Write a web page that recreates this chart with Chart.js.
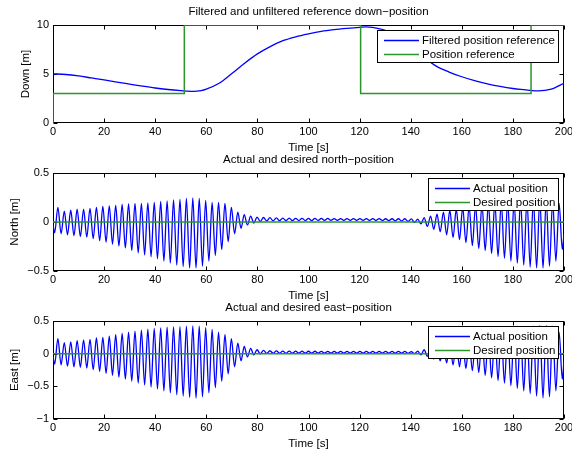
<!DOCTYPE html>
<html><head><meta charset="utf-8">
<script src="https://cdn.jsdelivr.net/npm/chart.js@4"></script>
<style>
html,body{margin:0;padding:0;background:#fff;width:572px;height:453px;overflow:hidden;position:relative;}
canvas{position:absolute;left:0;}
</style></head><body>
<canvas id="c1" width="572" height="157" style="top:0px"></canvas>
<canvas id="c2" width="572" height="157" style="top:148px"></canvas>
<canvas id="c3" width="572" height="157" style="top:296px"></canvas>
<script>
// ---- Data ----
const xTicksStep = 20;

// Top plot: filtered reference (blue) and step reference (green)
const filtT = [0,5,10,15,20,25,30,35,40,45,50,52,55,58,60,65,70,75,80,85,90,95,100,105,110,115,120,122.5,125,130,135,140,145,150,155,160,165,170,175,180,185,187,190,195,200];
const filtV = [5.02,4.95,4.8,4.6,4.4,4.18,3.97,3.76,3.57,3.42,3.3,3.26,3.22,3.3,3.45,4.05,5.05,6.1,7.05,7.8,8.4,8.8,9.1,9.35,9.52,9.65,9.76,9.8,9.75,9.45,8.75,7.75,6.7,5.8,5.2,4.72,4.32,4.0,3.73,3.52,3.38,3.32,3.27,3.45,4.05];
const refT = [0,0,51.4,51.4,120.4,120.4,187.1,187.1,200];
const refV = [0,3,3,10,10,3,3,10,10];

// Oscillation extrema times (troughs / peaks)
const troughTimes = [0.65,3.17,5.68,8.20,10.71,13.23,15.74,18.26,20.77,23.29,
 25.80,28.32,30.83,33.35,35.86,38.38,40.89,43.41,45.92,48.44,
 50.95,53.47,55.98,58.50,61.01,63.53,66.04,68.56,71.07,73.59,
 76.10,78.62,81.13,83.65,86.16,88.68,91.19,93.71,96.22,98.74,
 101.25,103.77,106.28,108.80,111.31,113.83,116.34,118.86,121.37,123.89,
 126.40,128.92,131.43,133.95,136.46,138.98,141.49,144.01,146.52,149.04,
 151.55,154.07,156.58,159.10,161.61,164.13,166.64,169.16,171.67,174.19,
 176.70,179.22,181.73,184.25,186.76,189.28,191.79,194.31,196.82,199.34];
const peakTimes = [1.91,4.42,6.94,9.45,11.97,14.48,17.00,19.51,22.03,24.54,
 27.06,29.57,32.09,34.60,37.12,39.63,42.15,44.66,47.18,49.69,
 52.21,54.72,57.24,59.75,62.27,64.78,67.30,69.81,72.33,74.84,
 77.36,79.87,82.39,84.90,87.42,89.93,92.45,94.96,97.48,99.99,
 102.51,105.02,107.54,110.05,112.57,115.08,117.60,120.11,122.63,125.14,
 127.66,130.17,132.69,135.20,137.72,140.23,142.75,145.26,147.78,150.29,
 152.81,155.32,157.84,160.35,162.87,165.38,167.90,170.41,172.93,175.44,
 177.96,180.47,182.99,185.50,188.02,190.53,193.05,195.56,198.08];

// North position extrema
const northStart = -0.03, northEnd = -0.12;
const northTroughs = [-0.11,-0.12,-0.13,-0.14,-0.15,-0.155,-0.17,-0.19,-0.205,-0.225,
 -0.245,-0.265,-0.29,-0.315,-0.335,-0.355,-0.375,-0.4,-0.42,-0.44,
 -0.455,-0.47,-0.47,-0.45,-0.4,-0.34,-0.28,-0.2,-0.12,-0.065,
 -0.03,-0.01,0.005,0.01,0.012,0.013,0.014,0.014,0.015,0.015,
 0.015,0.016,0.016,0.016,0.016,0.016,0.016,0.016,0.016,0.015,
 0.015,0.015,0.014,0.012,0.01,0.006,-0.005,-0.02,-0.045,-0.075,
 -0.1,-0.13,-0.16,-0.18,-0.21,-0.24,-0.27,-0.29,-0.32,-0.35,
 -0.37,-0.4,-0.42,-0.44,-0.46,-0.47,-0.47,-0.45,-0.4,-0.28];
const northPeaks = [0.15,0.11,0.12,0.13,0.13,0.14,0.15,0.16,0.165,0.17,
 0.18,0.185,0.19,0.19,0.195,0.2,0.21,0.215,0.225,0.23,
 0.24,0.245,0.24,0.22,0.2,0.2,0.19,0.15,0.1,0.075,
 0.06,0.05,0.046,0.044,0.042,0.04,0.04,0.038,0.038,0.037,
 0.037,0.036,0.036,0.035,0.035,0.035,0.034,0.034,0.034,0.034,
 0.034,0.033,0.033,0.033,0.033,0.032,0.03,0.045,0.06,0.08,
 0.1,0.12,0.13,0.15,0.16,0.17,0.18,0.19,0.2,0.21,
 0.215,0.22,0.23,0.235,0.24,0.24,0.23,0.22,0.19];

// East position extrema
const eastStart = -0.05, eastEnd = -0.1;
const eastTroughs = [-0.16,-0.17,-0.19,-0.2,-0.21,-0.22,-0.245,-0.27,-0.3,-0.33,
 -0.36,-0.39,-0.42,-0.45,-0.48,-0.51,-0.54,-0.57,-0.6,-0.63,
 -0.65,-0.67,-0.68,-0.66,-0.6,-0.52,-0.42,-0.31,-0.2,-0.11,
 -0.05,-0.02,-0.005,0.003,0.006,0.008,0.008,0.008,0.008,0.008,
 0.008,0.008,0.008,0.008,0.008,0.008,0.008,0.008,0.008,0.008,
 0.008,0.008,0.008,0.008,0.008,0.005,0,-0.02,-0.04,-0.08,
 -0.11,-0.14,-0.17,-0.2,-0.23,-0.26,-0.29,-0.33,-0.37,-0.41,
 -0.45,-0.49,-0.53,-0.57,-0.61,-0.65,-0.68,-0.66,-0.57,-0.39];
const eastPeaks = [0.23,0.17,0.18,0.2,0.21,0.22,0.24,0.25,0.27,0.29,
 0.31,0.33,0.345,0.36,0.375,0.385,0.395,0.405,0.41,0.415,
 0.42,0.425,0.42,0.4,0.37,0.33,0.29,0.23,0.16,0.11,
 0.08,0.06,0.05,0.045,0.042,0.04,0.039,0.038,0.038,0.037,
 0.037,0.036,0.036,0.036,0.035,0.035,0.035,0.035,0.035,0.035,
 0.035,0.035,0.034,0.034,0.034,0.03,0.04,0.06,0.08,0.1,
 0.12,0.15,0.17,0.2,0.22,0.25,0.27,0.3,0.32,0.34,
 0.36,0.38,0.4,0.41,0.42,0.43,0.43,0.42,0.33];

const desiredT = [0, 200];
const desiredV = [0, 0];

// ---- helpers ----
function zip(ts, vs){ return ts.map((t,i)=>({x:t,y:vs[i]})); }
function oscSeries(t0, v0, tT, vT, tP, vP, t1, v1){
  const pts = [{x:t0,y:v0}];
  for (let k=0;k<tT.length;k++){
    pts.push({x:tT[k], y:vT[k]});
    if (k < tP.length) pts.push({x:tP[k], y:vP[k]});
  }
  pts.push({x:t1,y:v1});
  return pts;
}

const FAM = '"Liberation Sans", Arial, Helvetica, sans-serif';
const BLUE = '#0000ff', GREEN = '#2a962a';
const minusFmt = v => (v < 0 ? '\u2212' + Math.abs(v) : String(v));

const framePlugin = {
  id: 'frameBox',
  beforeDatasetsDraw(chart){
    const {ctx, chartArea: ca, scales:{x, y}} = chart;
    const L = Math.round(ca.left)+0.5, R = Math.round(ca.right)-0.5;
    const T = Math.round(ca.top)+0.5, B = Math.round(ca.bottom)-0.5;
    ctx.save();
    ctx.strokeStyle = '#000'; ctx.lineWidth = 1;
    ctx.strokeRect(L, T, R-L, B-T);
    ctx.beginPath();
    const tl = 4;
    x.ticks.forEach(t => { const p = Math.round(x.getPixelForValue(t.value))+0.5;
      ctx.moveTo(p,B); ctx.lineTo(p,B-tl); ctx.moveTo(p,T); ctx.lineTo(p,T+tl); });
    y.ticks.forEach(t => { const p = Math.round(y.getPixelForValue(t.value))+0.5;
      ctx.moveTo(L,p); ctx.lineTo(L+tl,p); ctx.moveTo(R,p); ctx.lineTo(R-tl,p); });
    ctx.stroke();
    ctx.restore();
  }
};

const boxLegend = {
  id: 'boxLegend',
  afterDatasetsDraw(chart, args, opts){
    const ctx = chart.ctx, ca = chart.chartArea;
    ctx.save();
    ctx.font = '11.5px ' + FAM;
    const items = chart.data.datasets;
    const tw = Math.max(...items.map(d => ctx.measureText(d.label).width));
    const w = Math.round(45 + tw + 4), h = 33;
    const right = Math.round(ca.right - 5.5), top = Math.round(ca.top + 5);
    const left = right - w;
    ctx.fillStyle = '#fff'; ctx.fillRect(left, top, w, h);
    ctx.strokeStyle = '#000'; ctx.lineWidth = 1;
    ctx.strokeRect(left+0.5, top+0.5, w-1, h-1);
    items.forEach((d,k) => {
      const yy = top + 10.5 + k*14;
      ctx.strokeStyle = d.borderColor; ctx.lineWidth = d.borderWidth;
      ctx.beginPath(); ctx.moveTo(left+7, yy); ctx.lineTo(left+42, yy); ctx.stroke();
      ctx.fillStyle = '#000'; ctx.textAlign = 'left'; ctx.textBaseline = 'middle';
      ctx.fillText(d.label, left+45, yy);
    });
    ctx.restore();
  }
};

function makeChart(id, cfg){
  const font = {family: FAM, size: 11.5, lineHeight: 1.2, weight: 'normal'};
  const tfont = {family: FAM, size: 11, lineHeight: 1.2, weight: 'normal'};
  return new Chart(document.getElementById(id), {
    type: 'line',
    data: { datasets: cfg.datasets },
    options: {
      responsive: false, animation: false, devicePixelRatio: 1, events: [],
      layout: { padding: {left:0, right:8, top:0, bottom:0} },
      elements: { point: { radius: 0 } },
      plugins: {
        legend: {display:false}, tooltip: {enabled:false},
        title: { display:true, text: cfg.title, fullSize:false, color:'#000', font: font,
                 padding: {top:5.1, bottom:6.1} }
      },
      scales: {
        x: { type:'linear', min:0, max:200,
             grid:{display:false, drawTicks:false, tickLength:0}, border:{display:false},
             ticks:{ stepSize:xTicksStep, padding:2, color:'#000', font:tfont, maxRotation:0, autoSkip:false },
             title:{ display:true, text:'Time [s]', color:'#000', font:font, padding:{top:0,bottom:2.1} },
             afterFit(s){ s.height = 34; s.paddingLeft = 0; s.paddingRight = 0; } },
        y: { type:'linear', min:cfg.ymin, max:cfg.ymax,
             grid:{display:false, drawTicks:false, tickLength:0}, border:{display:false},
             ticks:{ stepSize:cfg.ystep, padding:4, color:'#000', font:tfont, callback: minusFmt },
             title:{ display:true, text:cfg.ylabel, color:'#000', font:font, padding:{top:cfg.ylabPad,bottom:0} },
             afterFit(s){ s.width = 53; s.paddingTop = 0; s.paddingBottom = 0; } }
      }
    },
    plugins: [framePlugin, boxLegend]
  });
}

makeChart('c1', {
  title: 'Filtered and unfiltered reference down\u2212position',
  ylabel: 'Down [m]', ylabPad: 19.1, ymin:0, ymax:10, ystep:5,
  datasets: [
    { label:'Filtered position reference', data: zip(filtT, filtV), borderColor:BLUE, borderWidth:1.3,
      cubicInterpolationMode:'monotone', order:1 },
    { label:'Position reference', data: zip(refT, refV), borderColor:GREEN, borderWidth:1.5, tension:0, order:0 }
  ]
});
makeChart('c2', {
  title: 'Actual and desired north\u2212position',
  ylabel: 'North [m]', ylabPad: 8.1, ymin:-0.5, ymax:0.5, ystep:0.5,
  datasets: [
    { label:'Actual position', data: oscSeries(0, northStart, troughTimes, northTroughs, peakTimes, northPeaks, 200, northEnd),
      borderColor:BLUE, borderWidth:1.3, cubicInterpolationMode:'monotone', order:1 },
    { label:'Desired position', data: zip(desiredT, desiredV), borderColor:GREEN, borderWidth:1.5, tension:0, order:0 }
  ]
});
makeChart('c3', {
  title: 'Actual and desired east\u2212position',
  ylabel: 'East [m]', ylabPad: 8.1, ymin:-1, ymax:0.5, ystep:0.5,
  datasets: [
    { label:'Actual position', data: oscSeries(0, eastStart, troughTimes, eastTroughs, peakTimes, eastPeaks, 200, eastEnd),
      borderColor:BLUE, borderWidth:1.3, cubicInterpolationMode:'monotone', order:1 },
    { label:'Desired position', data: zip(desiredT, desiredV), borderColor:GREEN, borderWidth:1.5, tension:0, order:0 }
  ]
});
</script>
</body></html>
